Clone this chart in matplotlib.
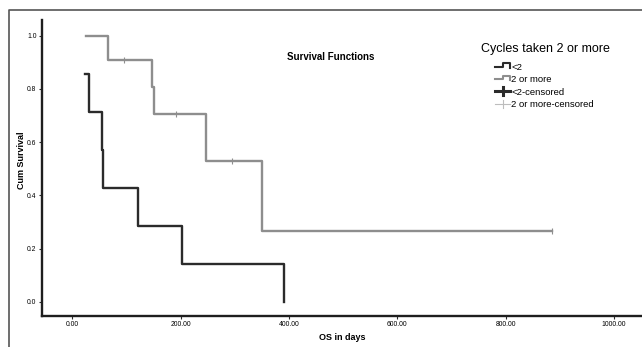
import matplotlib
matplotlib.use("Agg")
import matplotlib.pyplot as plt
from matplotlib.lines import Line2D
from matplotlib.legend_handler import HandlerBase

plt.rcParams['font.family'] = ['Liberation Sans', 'DejaVu Sans']

# Kaplan-Meier steps
low_t = [24, 30, 54, 56, 121, 203, 391]
low_s = [0.857, 0.714, 0.571, 0.429, 0.286, 0.143, 0.0]
high_t = [25, 65, 147, 151, 246, 351, 886]
high_s = [1.0, 0.909, 0.808, 0.707, 0.530, 0.265, 0.265]
# censored points of the "2 or more" group
cens_t = [96, 191, 294, 886]
cens_s = [0.909, 0.707, 0.530, 0.265]

xticks = [0, 200, 400, 600, 800, 1000]
yticks = [0.0, 0.2, 0.4, 0.6, 0.8, 1.0]

dark = '#2b2b2b'
grey = '#8e8e8e'
light = '#bdbdbd'

fig = plt.figure(figsize=(6.42, 3.47), dpi=100)
ax = fig.add_axes([42 / 642, 1 - 315.7 / 347, 600 / 642, 295.7 / 347])

ax.step(low_t, low_s, where='post', color=dark, lw=1.7)
ax.step(high_t, high_s, where='post', color=grey, lw=1.7)
ax.plot(cens_t, cens_s, ls='none', marker='|', ms=4, mew=0.8, color=grey)

ax.set_xlim(-56, 1051.5)
ax.set_ylim(-0.0526, 1.059)
ax.set_xticks(xticks)
ax.set_xticklabels(['%.2f' % v for v in xticks])
ax.set_yticks(yticks)
ax.set_yticklabels(['%.1f' % v for v in yticks])
ax.tick_params(labelsize=4.9, length=2.5, width=0.8, color=dark, pad=1.5)
for s in ['top', 'right']:
    ax.spines[s].set_visible(False)
for s in ['left', 'bottom']:
    ax.spines[s].set_linewidth(1.7)
    ax.spines[s].set_color('#1e1e1e')

fig.text(22 / 642, 1 - 160 / 347, 'Cum Survival', rotation=90, fontsize=6.5,
         fontweight='bold', ha='center', va='center')
fig.text(342 / 642, 1 - 338 / 347, 'OS in days', fontsize=6.5,
         fontweight='bold', ha='center', va='center')
fig.text(331 / 642, 1 - 57 / 347, 'Survival Functions', fontsize=7,
         fontweight='bold', ha='center', va='center')
fig.text(481 / 642, 1 - 49 / 347, 'Cycles taken 2 or more', fontsize=9,
         ha='left', va='center')


class StepHandler(HandlerBase):
    def __init__(self, kind, color, lw):
        super().__init__()
        self.kind = kind
        self.color = color
        self.lw = lw

    def create_artists(self, legend, orig, xd, yd, w, h, fs, trans):
        if self.kind == 'step':
            xs = [xd, xd + w * 0.55, xd + w * 0.55, xd + w, xd + w]
            ys = [yd + h * 0.45, yd + h * 0.45, yd + h * 0.95, yd + h * 0.95, yd + h * 0.3]
            return [Line2D(xs, ys, color=self.color, lw=self.lw, transform=trans)]
        a = Line2D([xd, xd + w], [yd + h * 0.5, yd + h * 0.5], color=self.color,
                   lw=self.lw, transform=trans)
        b = Line2D([xd + w * 0.5, xd + w * 0.5], [yd - h * 0.1, yd + h * 1.1],
                   color=self.color, lw=self.lw, transform=trans)
        return [a, b]


handles = [Line2D([], []) for _ in range(4)]
labels = ['<2', '2 or more', '<2-censored', '2 or more-censored']
hmap = {
    handles[0]: StepHandler('step', dark, 1.5),
    handles[1]: StepHandler('step', grey, 1.5),
    handles[2]: StepHandler('cross', dark, 2.2),
    handles[3]: StepHandler('cross', light, 0.8),
}
fig.legend(handles, labels, handler_map=hmap, loc='upper left',
           bbox_to_anchor=(495 / 642, 1 - 62.5 / 347), frameon=False, fontsize=6.8,
           handlelength=1.6, handletextpad=0.1, labelspacing=0.38, borderpad=0,
           borderaxespad=0)

# outer frame of the original figure
fig.add_artist(Line2D([9 / 642, 9 / 642, 1], [0, 1 - 10 / 347, 1 - 10 / 347],
                      transform=fig.transFigure, color='#555555', lw=1.2))

fig.savefig('out.png', dpi=100)
